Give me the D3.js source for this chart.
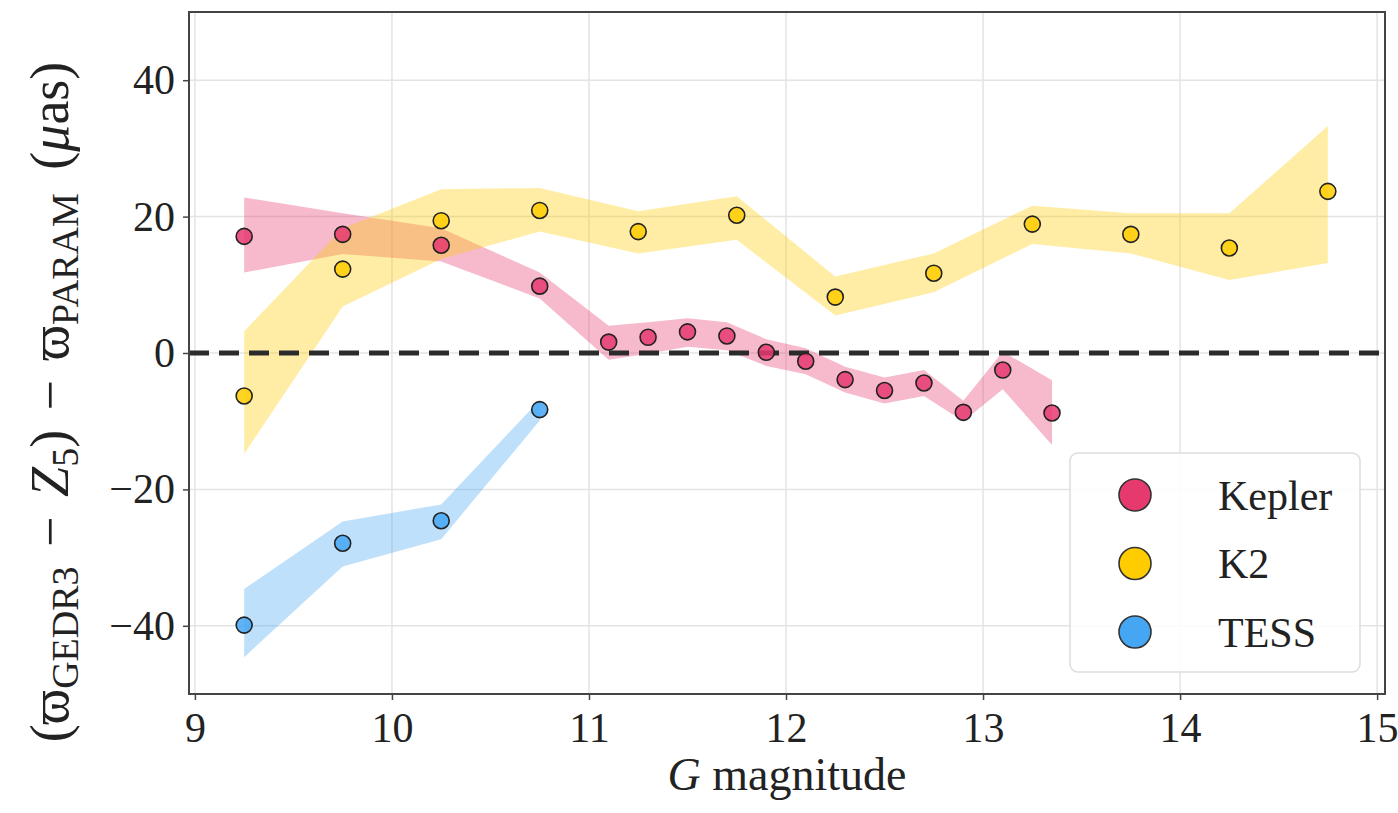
<!DOCTYPE html>
<html>
<head>
<meta charset="utf-8">
<script src="https://cdn.jsdelivr.net/npm/d3@7"></script>
<style>
  body { margin: 0; background: #fff; }
  svg text { font-family: "Liberation Serif", "DejaVu Serif", serif; fill: #222; }
</style>
</head>
<body>
<div id="chart"></div>
<script>
// Kepler
var keplerX = [9.25, 9.75, 10.25, 10.75, 11.1, 11.3, 11.5, 11.7, 11.9, 12.1, 12.3, 12.5, 12.7, 12.9, 13.1, 13.35];
var keplerY = [17.1, 17.4, 15.8, 9.8, 1.6, 2.3, 3.1, 2.5, 0.1, -1.2, -3.9, -5.5, -4.4, -8.7, -2.5, -8.8];
var keplerLo = [11.8, 14.5, 13.4, 8.0, -1.0, -0.1, 0.9, 0.4, -1.9, -3.1, -5.8, -7.4, -6.3, -10.0, -5.3, -13.5];
var keplerHi = [22.8, 20.5, 18.3, 11.8, 4.0, 4.5, 5.1, 4.5, 2.0, 0.7, -2.0, -3.6, -2.5, -7.0, 0.2, -4.0];

// K2
var k2X = [9.25, 9.75, 10.25, 10.75, 11.25, 11.75, 12.25, 12.75, 13.25, 13.75, 14.25, 14.75];
var k2Y = [-6.3, 12.3, 19.4, 20.9, 17.8, 20.2, 8.2, 11.7, 18.9, 17.4, 15.4, 23.7];
var k2Lo = [-14.8, 6.8, 13.8, 17.8, 14.6, 16.6, 5.5, 8.9, 16.0, 14.6, 10.7, 13.2];
var k2Hi = [3.2, 18.3, 24.0, 24.2, 20.8, 23.0, 11.2, 14.6, 21.6, 20.5, 20.5, 33.3];

// TESS
var tessX = [9.25, 9.75, 10.25, 10.75];
var tessY = [-39.9, -27.9, -24.6, -8.3];
var tessLo = [-44.6, -31.3, -27.3, -9.9];
var tessHi = [-34.6, -24.7, -22.2, -6.9];

var xTicks = [9, 10, 11, 12, 13, 14, 15];
var yTicks = [-40, -20, 0, 20, 40];

var series = [
  { name: 'Kepler', color: '#e63a6e', x: keplerX, y: keplerY, lo: keplerLo, hi: keplerHi },
  { name: 'K2', color: '#ffcc00', x: k2X, y: k2Y, lo: k2Lo, hi: k2Hi },
  { name: 'TESS', color: '#45a6f3', x: tessX, y: tessY, lo: tessLo, hi: tessHi }
];

var W = 1398, H = 813;
var margin = { top: 12, right: 13, bottom: 119, left: 189 };
var width = W - margin.left - margin.right,
    height = H - margin.top - margin.bottom;

var xScale = d3.scaleLinear().domain([8.97, 15.04]).range([0, width]);
var yScale = d3.scaleLinear().domain([-50, 50]).range([height, 0]);

var svg = d3.select('#chart').append('svg').attr('width', W).attr('height', H);
var g = svg.append('g').attr('transform', 'translate(' + margin.left + ',' + margin.top + ')');

// grid
g.append('g').selectAll('line').data(xTicks).enter().append('line')
  .attr('x1', function (d) { return xScale(d); }).attr('x2', function (d) { return xScale(d); })
  .attr('y1', 0).attr('y2', height).style('stroke', '#e4e4e4').style('stroke-width', 1.5);
g.append('g').selectAll('line').data(yTicks).enter().append('line')
  .attr('y1', function (d) { return yScale(d); }).attr('y2', function (d) { return yScale(d); })
  .attr('x1', 0).attr('x2', width).style('stroke', '#e4e4e4').style('stroke-width', 1.5);

// bands
series.forEach(function (s) {
  var rows = s.x.map(function (v, i) { return { x: v, lo: s.lo[i], hi: s.hi[i] }; });
  var area = d3.area()
    .x(function (d) { return xScale(d.x); })
    .y0(function (d) { return yScale(d.lo); })
    .y1(function (d) { return yScale(d.hi); });
  g.append('path').datum(rows).attr('d', area)
    .style('fill', s.color).style('opacity', 0.35);
});

// zero line
g.append('line').attr('x1', 0).attr('x2', width)
  .attr('y1', yScale(0)).attr('y2', yScale(0))
  .style('stroke', '#2b2b2b').style('stroke-width', 5).style('stroke-dasharray', '20,10');

// points
series.forEach(function (s) {
  g.append('g').selectAll('circle').data(s.x).enter().append('circle')
    .attr('cx', function (d) { return xScale(d); })
    .attr('cy', function (d, i) { return yScale(s.y[i]); })
    .attr('r', 8)
    .style('fill', s.color).style('fill-opacity', 0.85)
    .style('stroke', '#222').style('stroke-width', 1.6);
});

// axes
var xAxis = d3.axisBottom(xScale).tickValues(xTicks).tickSize(6).tickPadding(10).tickFormat(d3.format('d'));
var yAxis = d3.axisLeft(yScale).tickValues(yTicks).tickSize(6).tickPadding(8)
  .tickFormat(function (d) { return d < 0 ? '\u2212' + Math.abs(d) : d; });

var gx = g.append('g').attr('transform', 'translate(0,' + height + ')').call(xAxis);
var gy = g.append('g').call(yAxis);
[gx, gy].forEach(function (a) {
  a.select('.domain').remove();
  a.selectAll('line').style('stroke', '#444').style('stroke-width', 1.5);
  a.selectAll('text').style('font-size', '42px').style('font-family', '"Liberation Serif", serif').style('fill', '#222');
});
gx.selectAll('text').attr('dy', '0.75em');

// frame
g.append('rect').attr('width', width).attr('height', height)
  .style('fill', 'none').style('stroke', '#444').style('stroke-width', 2);

// axis labels
var xl = svg.append('text').attr('x', margin.left + width / 2).attr('y', 790)
  .attr('text-anchor', 'middle').style('font-size', '46px');
xl.append('tspan').style('font-style', 'italic').text('G');
xl.append('tspan').text(' magnitude');

var yl = svg.append('text')
  .attr('transform', 'translate(' + 68 + ',' + 402 + ') rotate(-90)')
  .attr('text-anchor', 'middle').style('font-size', '54px');
yl.append('tspan').text('(\u03d6');
yl.append('tspan').attr('baseline-shift', '-25%').style('font-size', '38px').text('GEDR3');
yl.append('tspan').attr('dx', 6).text(' \u2212 ');
yl.append('tspan').attr('dx', 6).style('font-style', 'italic').text('Z');
yl.append('tspan').attr('baseline-shift', '-25%').style('font-size', '38px').text('5');
yl.append('tspan').text(')');
yl.append('tspan').attr('dx', 6).text(' \u2212 ');
yl.append('tspan').attr('dx', 6).text('\u03d6');
yl.append('tspan').attr('baseline-shift', '-25%').style('font-size', '38px').text('PARAM');
yl.append('tspan').attr('dx', 10).text(' (');
yl.append('tspan').style('font-style', 'italic').text('\u03bc');
yl.append('tspan').text('as)');

// legend
var legend = svg.append('g').attr('transform', 'translate(' + 1070 + ',' + 453 + ')');
legend.append('rect').attr('width', 290).attr('height', 219).attr('rx', 8).attr('ry', 8)
  .style('fill', '#fff').style('fill-opacity', 0.85).style('stroke', '#ddd').style('stroke-width', 1.5);
series.forEach(function (s, i) {
  legend.append('circle').attr('cx', 65).attr('cy', 42 + i * 68.5).attr('r', 16)
    .style('fill', s.color).style('stroke', '#333').style('stroke-width', 1.6);
  legend.append('text').attr('x', 148).attr('y', 42 + i * 68.5).attr('dy', '0.35em')
    .style('font-size', '42px').text(s.name);
});
</script>
</body>
</html>
